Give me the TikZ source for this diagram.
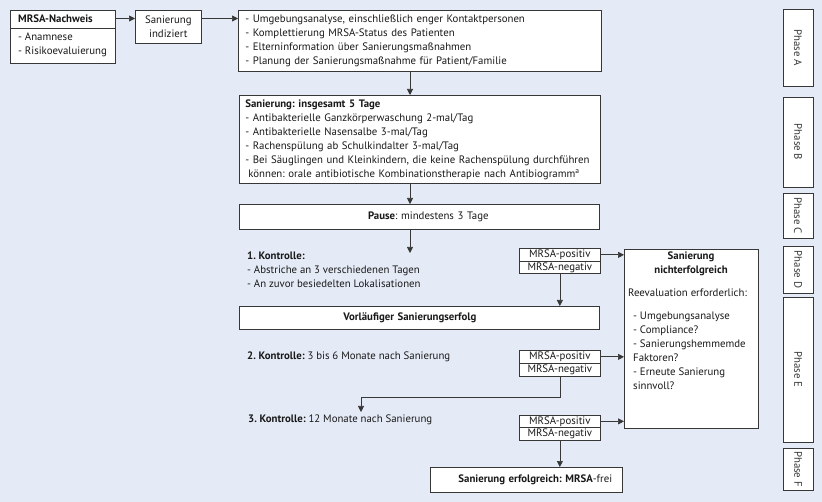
\documentclass[tikz,border=0pt]{standalone}
\usepackage{fontspec}
\setmainfont{PT Sans}
\usetikzlibrary{arrows.meta,calc}
\definecolor{bg}{RGB}{229,235,246}
\definecolor{ln}{RGB}{55,55,55}
\definecolor{tx}{RGB}{25,25,25}
\frenchspacing
\begin{document}
\begin{tikzpicture}[x=1pt,y=-1pt,
  font=\fontsize{10.8}{14}\selectfont, text=tx,
  box/.style={draw=ln, fill=white, line width=0.7pt, inner ysep=0pt, inner xsep=6pt, anchor=north west},
  arr/.style={draw=ln, line width=0.7pt, -{Triangle[length=6pt,width=6pt]}},
  lbl/.style={inner sep=0pt, align=left, anchor=west},
  phasebox/.style={draw=ln, fill=white, line width=0.7pt, rotate=-90, minimum height=30pt, inner sep=0pt, text=ln},
]
\fill[bg] (0,0) rectangle (822,502);
\useasboundingbox (0,0) rectangle (822,502);

% top row
\node[box, minimum width=105pt, minimum height=53pt] (nach) at (10,10) {};
\draw[ln, line width=0.7pt] ($(nach.north west)+(0,18)$) -- ($(nach.north east)+(0,18)$);
\node[lbl, font=\fontsize{10.8}{14}\selectfont\bfseries] (nachh) at (18,19) {MRSA-Nachweis};
\node[lbl] (nachl) at (18,45) {- Anamnese\\- Risikoevaluierung};

\node[box, minimum width=66pt, minimum height=33pt, align=center, inner xsep=0pt] (ind) at (135,10) {Sanierung\\indiziert};

\node[box, minimum width=362pt, minimum height=61pt, text width=349pt, align=left, inner xsep=7pt] (b1) at (238,10)
 {- Umgebungsanalyse, einschließlich enger Kontaktpersonen\\
  - Komplettierung MRSA-Status des Patienten\\
  - Elterninformation über Sanierungsmaßnahmen\\
  - Planung der Sanierungsmaßnahme für Patient/Familie};

\node[box, minimum width=361pt, minimum height=88pt, text width=349pt, align=left] (b2) at (239,95)
 {\textbf{Sanierung: insgesamt 5 Tage}\\
  - Antibakterielle Ganzkörperwaschung 2-mal/Tag\\
  - Antibakterielle Nasensalbe 3-mal/Tag\\
  - Rachenspülung ab Schulkindalter 3-mal/Tag\\
  \mbox{- Bei Säuglingen und Kleinkindern, die keine Rachenspülung durchführen}\\
  \hspace*{3pt}\mbox{können: orale antibiotische Kombinationstherapie nach Antibiogramm\textsuperscript{a}}};

\node[box, minimum width=360pt, minimum height=25pt, text width=348pt, align=center] (b3) at (239,204)
 {\hspace*{18pt}\textbf{Pause}: mindestens 3 Tage};

% Kontrolle 1
\node[lbl] (k1) at (247,270) {\textbf{1. Kontrolle:}\\- Abstriche an 3 verschiedenen Tagen\\- An zuvor besiedelten Lokalisationen};
\node[box, minimum width=81pt, minimum height=13pt, align=center, inner xsep=0pt] (pos1) at (519,248) {MRSA-positiv};
\node[box, minimum width=81pt, minimum height=12pt, align=center, inner xsep=0pt] (neg1) at (519,261) {MRSA-negativ};

\node[box, minimum width=360pt, minimum height=23pt, text width=348pt, align=center] (vor) at (239,306)
 {\hspace*{-19pt}\textbf{Vorläufiger Sanierungserfolg}};

% Kontrolle 2
\node[lbl] (k2) at (247,357) {\textbf{2. Kontrolle:} 3 bis 6 Monate nach Sanierung};
\node[box, minimum width=81pt, minimum height=13pt, align=center, inner xsep=0pt] (pos2) at (519,350) {MRSA-positiv};
\node[box, minimum width=81pt, minimum height=13pt, align=center, inner xsep=0pt] (neg2) at (519,363) {MRSA-negativ};

% Kontrolle 3
\node[lbl] (k3) at (248,420) {\textbf{3. Kontrolle:} 12 Monate nach Sanierung};
\node[box, minimum width=81pt, minimum height=12pt, align=center, inner xsep=0pt] (pos3) at (519,415) {MRSA-positiv};
\node[box, minimum width=81pt, minimum height=13pt, align=center, inner xsep=0pt] (neg3) at (519,427) {MRSA-negativ};

\node[box, minimum width=192pt, minimum height=25pt, text width=180pt, align=center] (fin) at (430,467)
 {\hspace*{18pt}\textbf{Sanierung erfolgreich: MRSA}-frei};

% right box
\node[box, minimum width=134pt, minimum height=179pt] (nf) at (624,249) {};
\node[inner sep=0pt, align=center, font=\fontsize{10.8}{14}\selectfont\bfseries] (nfh) at (691,264) {Sanierung\\nichterfolgreich};
\node[lbl] (nfr) at (628,293) {Reevaluation erforderlich:};
\node[lbl] (nfl) at (633,351) {- Umgebungsanalyse\\- Compliance?\\- Sanierungshemmemde\\Faktoren?\\- Erneute Sanierung\\sinnvoll?};

% phases
\node[phasebox, minimum width=77pt] (pa) at (798,47.5) {Phase A};
\node[phasebox, minimum width=90pt] (pb) at (798,142) {Phase B};
\node[phasebox, minimum width=45pt] (pc) at (798,215.5) {Phase C};
\node[phasebox, minimum width=47pt] (pd) at (798,269.5) {Phase D};
\node[phasebox, minimum width=145pt] (pe) at (798,369.5) {Phase E};
\node[phasebox, minimum width=42pt] (pf) at (798,469) {Phase F};

% connectors
\coordinate (ax) at (410,0);
\coordinate (k1a) at (410,253);
\coordinate (bend) at (0,397);
\coordinate (k3a) at (361,412);
\draw[arr] ([yshift=-8.5pt]nach.north east) -- ([yshift=-8.5pt]ind.north west);
\draw[arr] ([yshift=-8.5pt]ind.north east) -- ([yshift=-8.5pt]b1.north west);
\draw[arr] (b1.south -| ax) -- (b2.north -| ax);
\draw[arr] (b2.south -| ax) -- (b3.north -| ax);
\draw[arr] (b3.south -| ax) -- (k1a);
\draw[arr] (pos1.east) -- (pos1.east -| nf.west);
\draw[arr] (neg1.south) -- (neg1.south |- vor.north);
\draw[arr] (pos2.east) -- (pos2.east -| nf.west);
\draw[arr] (neg2.south) -- (neg2.south |- bend) -| (k3a);
\draw[arr] (pos3.east) -- (pos3.east -| nf.west);
\draw[arr] (neg3.south) -- (neg3.south |- fin.north);
\end{tikzpicture}
\end{document}
